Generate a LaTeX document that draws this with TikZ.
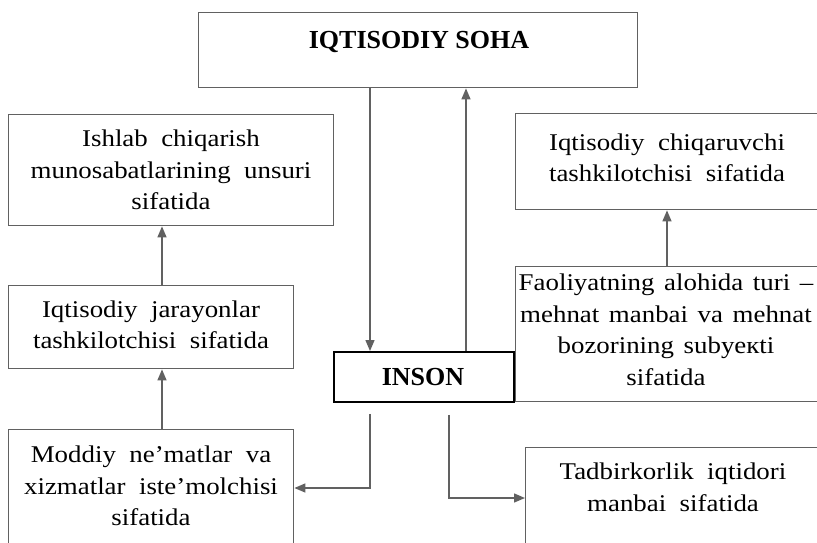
\documentclass[tikz,border=0pt]{standalone}
\usepackage{fontspec}
\setmainfont{Liberation Serif}[FakeStretch=1.12]
\newfontfamily\headfont{Liberation Serif}
\usetikzlibrary{arrows.meta}
\definecolor{linegray}{gray}{0.38}
\newcommand{\gap}{\hspace{0.4em}}

\tikzset{
  box/.style={draw=linegray, line width=1.4pt, rectangle, inner sep=0pt, anchor=north west},
  txt/.style={align=center, font=\fontsize{24}{31.5}\selectfont, inner sep=0pt},
  head/.style={font=\headfont\bfseries\fontsize{26}{30}\selectfont, inner sep=0pt},
  arr/.style={draw=linegray, line width=1.4pt, -{Triangle[length=11pt,width=9pt]}},
}

\begin{document}
\begin{tikzpicture}[x=1pt,y=-1pt]
\clip (0,0) rectangle (817,542);
\fill[white] (0,0) rectangle (817,542);

% frames
\node[box, minimum width=439pt, minimum height=75pt]  (soha)  at (198,12)  {};
\node[box, minimum width=325pt, minimum height=111pt] (l1)    at (8,114)   {};
\node[box, minimum width=285pt, minimum height=83pt]  (l2)    at (8,285)   {};
\node[box, minimum width=285pt, minimum height=150pt] (l3)    at (8,429)   {};
\node[box, draw=black, line width=1.8pt, minimum width=180pt, minimum height=50pt] (inson) at (333,351) {};
\node[box, minimum width=305pt, minimum height=96pt]  (r1)    at (515,113) {};
\node[box, minimum width=305pt, minimum height=135pt] (r2)    at (515,266) {};
\node[box, minimum width=297pt, minimum height=150pt] (r3)    at (525,447) {};

% labels
\node[head] (sohaT)  at (419,42)  {IQTISODIY SOHA};
\node[head] (insonT) at (423,377) {INSON};
\node[txt] (l1T) at (171,170) {Ishlab\ \ chiqarish\\munosabatlarining\ \ unsuri\\sifatida};
\node[txt] (l2T) at (151,325) {Iqtisodiy\ \ jarayonlar\\tashkilotchisi\ \ sifatida};
\node[txt] (l3T) at (151,486) {Moddiy\ \ ne’matlar\ \ va\\xizmatlar\ \ iste’molchisi\\sifatida};
\node[txt] (r1T) at (667,158) {Iqtisodiy\ \ chiqaruvchi\\tashkilotchisi\ \ sifatida};
\node[txt] (r2T) at (666,330) {Faoliyatning\gap alohida\gap turi\gap –\\mehnat\gap manbai\gap va\gap mehnat\\bozorining\gap subyeкti\\sifatida};
\node[txt] (r3T) at (673,487.5) {Tadbirkorlik\ \ iqtidori\\manbai\ \ sifatida};

% connector columns and rows
\coordinate (xa) at (370,0);
\coordinate (xb) at (466,0);
\coordinate (xc) at (449,0);
\coordinate (xl) at (162,0);
\coordinate (xr) at (667,0);
\coordinate (ya) at (0,488);
\coordinate (yb) at (0,498);

% connectors
\draw[arr] (soha.south -| xa) -- (inson.north -| xa);
\draw[arr] (inson.north -| xb) -- (soha.south -| xb);
\draw[arr] (l2.north -| xl) -- (l1.south -| xl);
\draw[arr] (l3.north -| xl) -- (l2.south -| xl);
\draw[arr] (r2.north -| xr) -- (r1.south -| xr);
\draw[arr, shorten <=11pt] (inson.south -| xa) |- (l3.east |- ya);
\draw[arr, shorten <=12pt] (inson.south -| xc) |- (r3.west |- yb);
\end{tikzpicture}
\end{document}
